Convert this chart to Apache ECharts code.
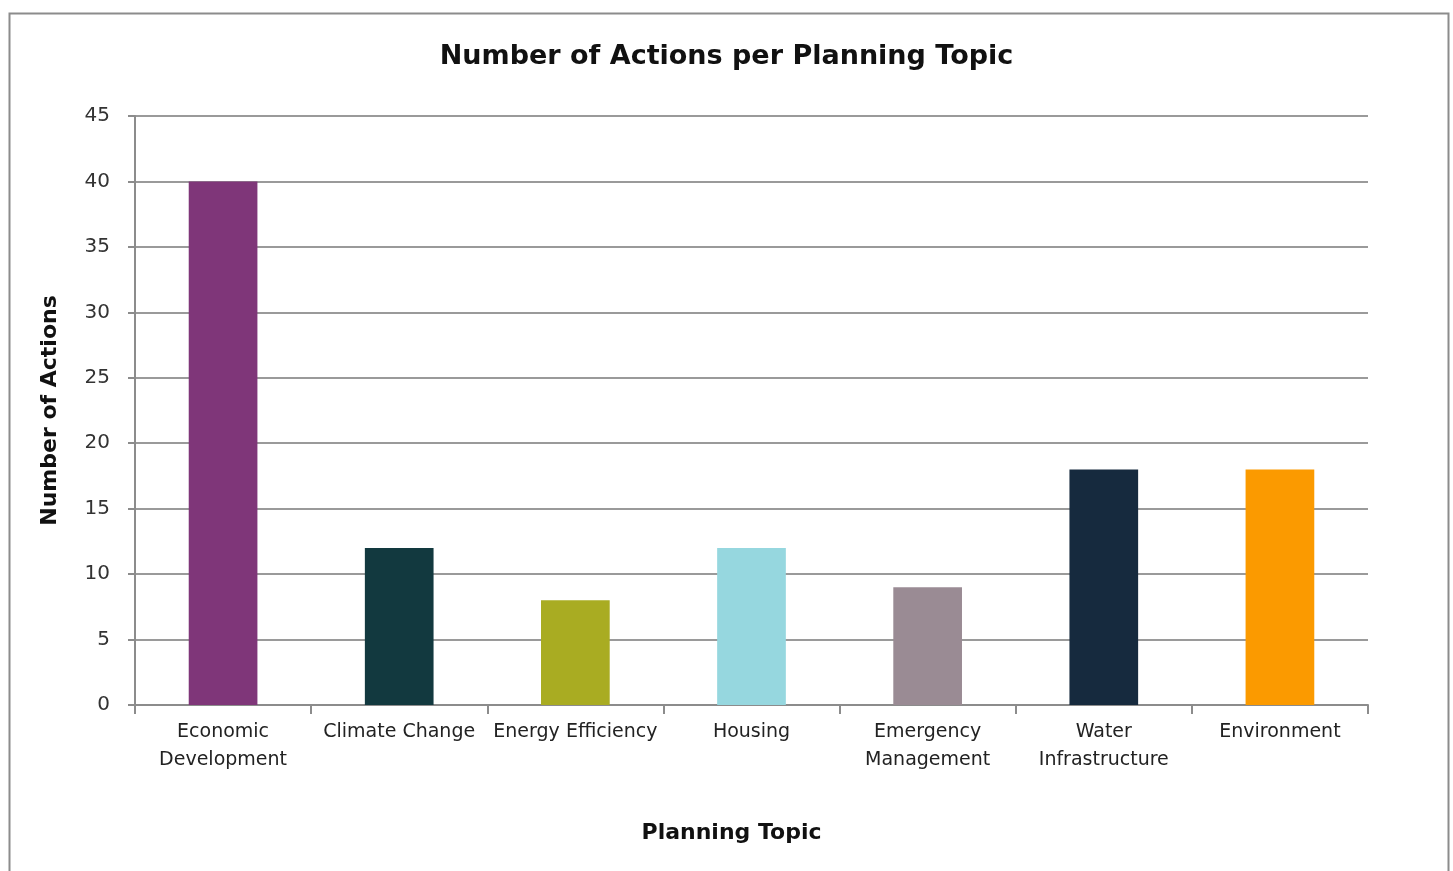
<!DOCTYPE html>
<html>
<head>
<meta charset="utf-8">
<script src="https://cdn.jsdelivr.net/npm/echarts@6/dist/echarts.min.js"></script>
<style>
html,body{margin:0;padding:0;background:#fff;}
#chart{width:1453px;height:871px;}
</style>
</head>
<body>
<div id="chart"></div>
<script>
const categories = ['Economic\nDevelopment','Climate Change','Energy Efficiency','Housing','Emergency\nManagement','Water\nInfrastructure','Environment'];
const values = [40, 12, 8, 12, 9, 18, 18];
const colors = ['#7f3679','#12393f','#a9ac22','#96d7df','#9a8b94','#162a3e','#fb9a00'];
const yTicks = {min: 0, max: 45, interval: 5};

const chart = echarts.init(document.getElementById('chart'));
const font = 'DejaVu Sans';
chart.setOption({
  animation: false,
  graphic: [{
    type: 'rect', left: 7, top: 11, silent: true,
    shape: {width: 1439, height: 880},
    style: {fill: 'none', stroke: '#8c8c8c', lineWidth: 2}
  }],
  title: {
    text: 'Number of Actions per Planning Topic',
    left: 'center', top: 38,
    textStyle: {fontFamily: font, fontWeight: 'bold', fontSize: 27, color: '#111'}
  },
  grid: {left: 135, right: 85, top: 116, bottom: 166, containLabel: false},
  xAxis: {
    type: 'category',
    data: categories,
    name: 'Planning Topic',
    nameLocation: 'middle',
    nameGap: 117,
    nameTextStyle: {fontFamily: font, fontWeight: 'bold', fontSize: 22, color: '#111', padding: [0, 40, 0, 0]},
    axisLine: {lineStyle: {color: '#8c8c8c', width: 2}},
    axisTick: {show: true, length: 9, lineStyle: {color: '#8c8c8c', width: 2}},
    axisLabel: {fontFamily: font, fontSize: 19, color: '#222', margin: 13, lineHeight: 28, interval: 0}
  },
  yAxis: {
    type: 'value',
    min: yTicks.min, max: yTicks.max, interval: yTicks.interval,
    name: 'Number of Actions',
    nameLocation: 'middle',
    nameGap: 74,
    nameTextStyle: {fontFamily: font, fontWeight: 'bold', fontSize: 22, color: '#111'},
    axisLine: {show: true, lineStyle: {color: '#8c8c8c', width: 2}},
    axisTick: {show: true, length: 7, lineStyle: {color: '#8c8c8c', width: 2}},
    axisLabel: {fontFamily: font, fontSize: 20, color: '#333', margin: 25},
    splitLine: {lineStyle: {color: '#9a9a9a', width: 2}}
  },
  series: [{
    type: 'bar',
    data: values.map((v, i) => ({value: v, itemStyle: {color: colors[i]}})),
    barWidth: '39%'
  }]
});
</script>
</body>
</html>
